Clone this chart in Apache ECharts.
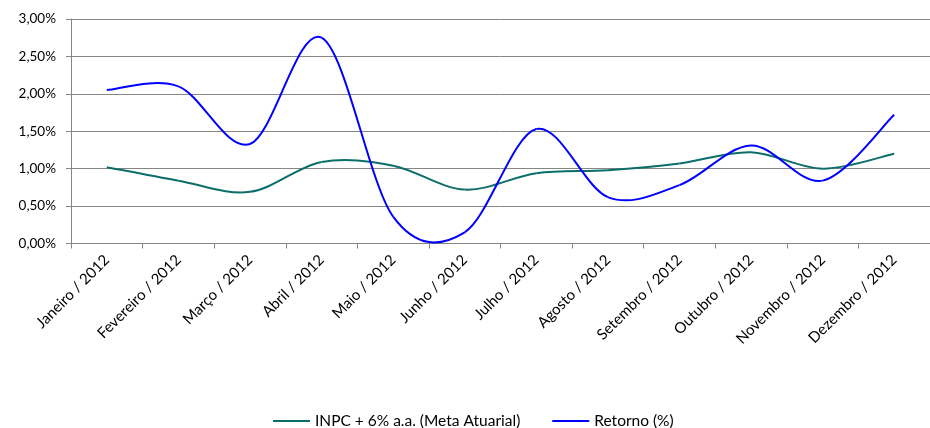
<!DOCTYPE html>
<html><head><meta charset="utf-8">
<script src="https://cdn.jsdelivr.net/npm/echarts@6/dist/echarts.min.js"></script>
<style>html,body{margin:0;padding:0;background:#fff}#c{width:930px;height:428px}</style>
</head><body><div id="c"></div>
<script>
const categories = ['Janeiro / 2012','Fevereiro / 2012','Março / 2012','Abril / 2012','Maio / 2012','Junho / 2012','Julho / 2012','Agosto / 2012','Setembro / 2012','Outubro / 2012','Novembro / 2012','Dezembro / 2012'];
const inpcMeta = [1.02, 0.84, 0.69, 1.09, 1.04, 0.72, 0.94, 0.98, 1.07, 1.22, 1.00, 1.20];
const retorno = [2.05, 2.10, 1.33, 2.75, 0.36, 0.15, 1.53, 0.62, 0.78, 1.31, 0.84, 1.72];
const seriesNames = ['INPC + 6% a.a. (Meta Atuarial)', 'Retorno (%)'];
const seriesColors = ['#0B6E6A', '#0000FF'];

const chart = echarts.init(document.getElementById('c'));
const font = 'Lato, "Liberation Sans", sans-serif';

// Excel-style smoothed line: cubic Bezier segments (Catmull-Rom) through the data points,
// each point placed through the chart's own coordinate system.
function smoothRenderer(values, color) {
  return function (params, api) {
    const i = params.dataIndex;
    const n = values.length;
    if (i >= n - 1) return null;
    const P = j => api.coord([Math.max(0, Math.min(n - 1, j)), values[Math.max(0, Math.min(n - 1, j))]]);
    const p0 = P(i - 1), p1 = P(i), p2 = P(i + 1), p3 = P(i + 2);
    const t = 1 / 6;
    return {
      type: 'bezierCurve',
      shape: {
        x1: p1[0], y1: p1[1], x2: p2[0], y2: p2[1],
        cpx1: p1[0] + (p2[0] - p0[0]) * t, cpy1: p1[1] + (p2[1] - p0[1]) * t,
        cpx2: p2[0] - (p3[0] - p1[0]) * t, cpy2: p2[1] - (p3[1] - p1[1]) * t
      },
      style: {stroke: color, fill: null, lineWidth: 2}
    };
  };
}

chart.setOption({
  animation: false,
  textStyle: {fontFamily: font},
  grid: {left: 71, top: 19, width: 864, bottom: 184.5, containLabel: false},
  legend: {
    left: 268, top: 408, itemWidth: 37, itemHeight: 2, itemGap: 32, icon: 'rect',
    textStyle: {fontFamily: font, fontSize: 15.5, color: '#000'},
    data: seriesNames
  },
  xAxis: {
    type: 'category', data: categories, boundaryGap: true,
    axisLine: {lineStyle: {color: '#868686', width: 1}},
    axisTick: {show: true, alignWithLabel: false, length: 5, lineStyle: {color: '#868686'}},
    axisLabel: {rotate: 45, fontSize: 15, color: '#000', margin: 14, fontFamily: font, interval: 0}
  },
  yAxis: {
    type: 'value', min: 0, max: 3, interval: 0.5,
    axisLine: {show: true, lineStyle: {color: '#868686'}},
    axisTick: {show: true, length: 5, lineStyle: {color: '#868686'}},
    splitLine: {lineStyle: {color: '#868686', width: 1}},
    axisLabel: {fontSize: 13.5, color: '#000', margin: 15, fontFamily: font,
      formatter: v => v.toFixed(2).replace('.', ',') + '%'}
  },
  series: [
    {name: seriesNames[0], type: 'custom', renderItem: smoothRenderer(inpcMeta, seriesColors[0]),
     data: inpcMeta.map((v, i) => [i, v]), encode: {x: 0, y: 1},
     itemStyle: {color: seriesColors[0]}},
    {name: seriesNames[1], type: 'custom', renderItem: smoothRenderer(retorno, seriesColors[1]),
     data: retorno.map((v, i) => [i, v]), encode: {x: 0, y: 1},
     itemStyle: {color: seriesColors[1]}}
  ]
});
</script></body></html>
